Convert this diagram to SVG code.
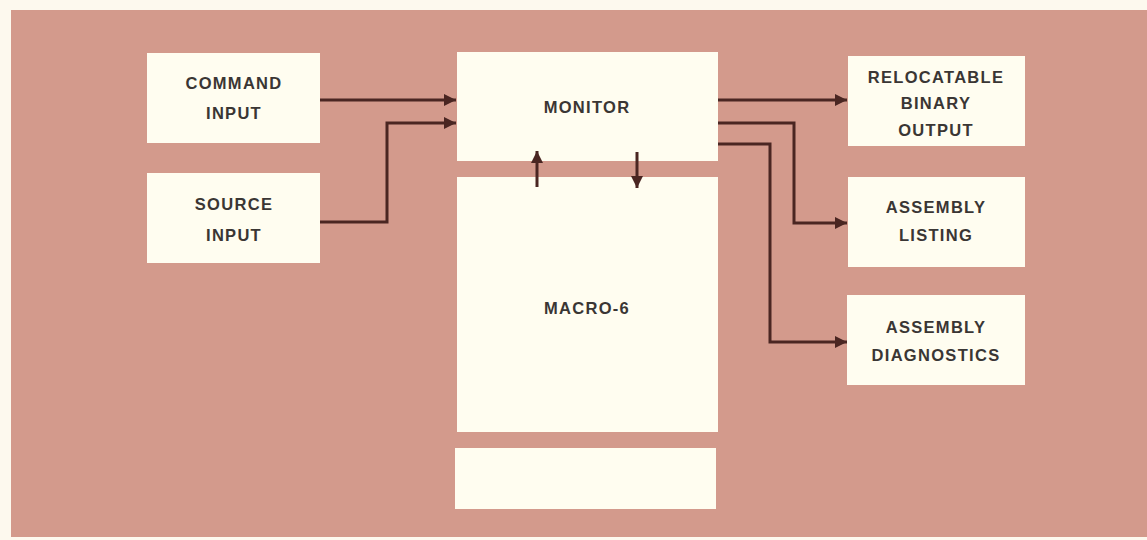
<svg xmlns="http://www.w3.org/2000/svg" width="1147" height="540" viewBox="0 0 1147 540">
<defs>
<style>
.box{fill:#fffdf0;}
.lbl{font-family:"Liberation Sans",Arial,sans-serif;font-size:16.5px;font-weight:bold;fill:#3a3634;text-anchor:middle;letter-spacing:1.3px;}
.ln{fill:none;stroke:#4a2622;stroke-width:3;}
</style>
<marker id="ah" viewBox="0 0 10 10" refX="10" refY="5" markerWidth="5" markerHeight="4" markerUnits="strokeWidth" orient="auto">
<path d="M0,0 L10,5 L0,10 z" fill="#4a2622"/>
</marker>
</defs>
<rect x="0" y="0" width="1147" height="540" fill="#fdf9ee"/>
<rect x="11" y="10" width="1136" height="527" fill="#d39a8c"/>
<g id="command-input">
<rect class="box" x="147" y="53" width="173" height="90"/>
<text class="lbl" x="234" y="89">COMMAND</text>
<text class="lbl" x="234" y="119">INPUT</text>
</g>
<g id="source-input">
<rect class="box" x="147" y="173" width="173" height="90"/>
<text class="lbl" x="234" y="210">SOURCE</text>
<text class="lbl" x="234" y="241">INPUT</text>
</g>
<g id="monitor">
<rect class="box" x="457" y="52" width="261" height="109"/>
<text class="lbl" x="587" y="113">MONITOR</text>
</g>
<g id="macro-6">
<rect class="box" x="457" y="177" width="261" height="255"/>
<text class="lbl" x="587" y="314">MACRO-6</text>
</g>
<g id="blank-box">
<rect class="box" x="455" y="448" width="261" height="61"/>
</g>
<g id="relocatable-binary-output">
<rect class="box" x="848" y="56" width="177" height="90"/>
<text class="lbl" x="936" y="83">RELOCATABLE</text>
<text class="lbl" x="936" y="109">BINARY</text>
<text class="lbl" x="936" y="136">OUTPUT</text>
</g>
<g id="assembly-listing">
<rect class="box" x="848" y="177" width="177" height="90"/>
<text class="lbl" x="936" y="213">ASSEMBLY</text>
<text class="lbl" x="936" y="241">LISTING</text>
</g>
<g id="assembly-diagnostics">
<rect class="box" x="847" y="295" width="178" height="90"/>
<text class="lbl" x="936" y="333">ASSEMBLY</text>
<text class="lbl" x="936" y="361">DIAGNOSTICS</text>
</g>
<g id="connectors">
<path class="ln" d="M320,100 H456" marker-end="url(#ah)"/>
<path class="ln" d="M320,222 H387 V123 H456" marker-end="url(#ah)"/>
<path class="ln" d="M718,100 H847" marker-end="url(#ah)"/>
<path class="ln" d="M718,123 H794 V223 H847" marker-end="url(#ah)"/>
<path class="ln" d="M718,144 H770 V342 H847" marker-end="url(#ah)"/>
<path class="ln" d="M537,187 V151" marker-end="url(#ah)"/>
<path class="ln" d="M637,152 V188" marker-end="url(#ah)"/>
</g>
</svg>
